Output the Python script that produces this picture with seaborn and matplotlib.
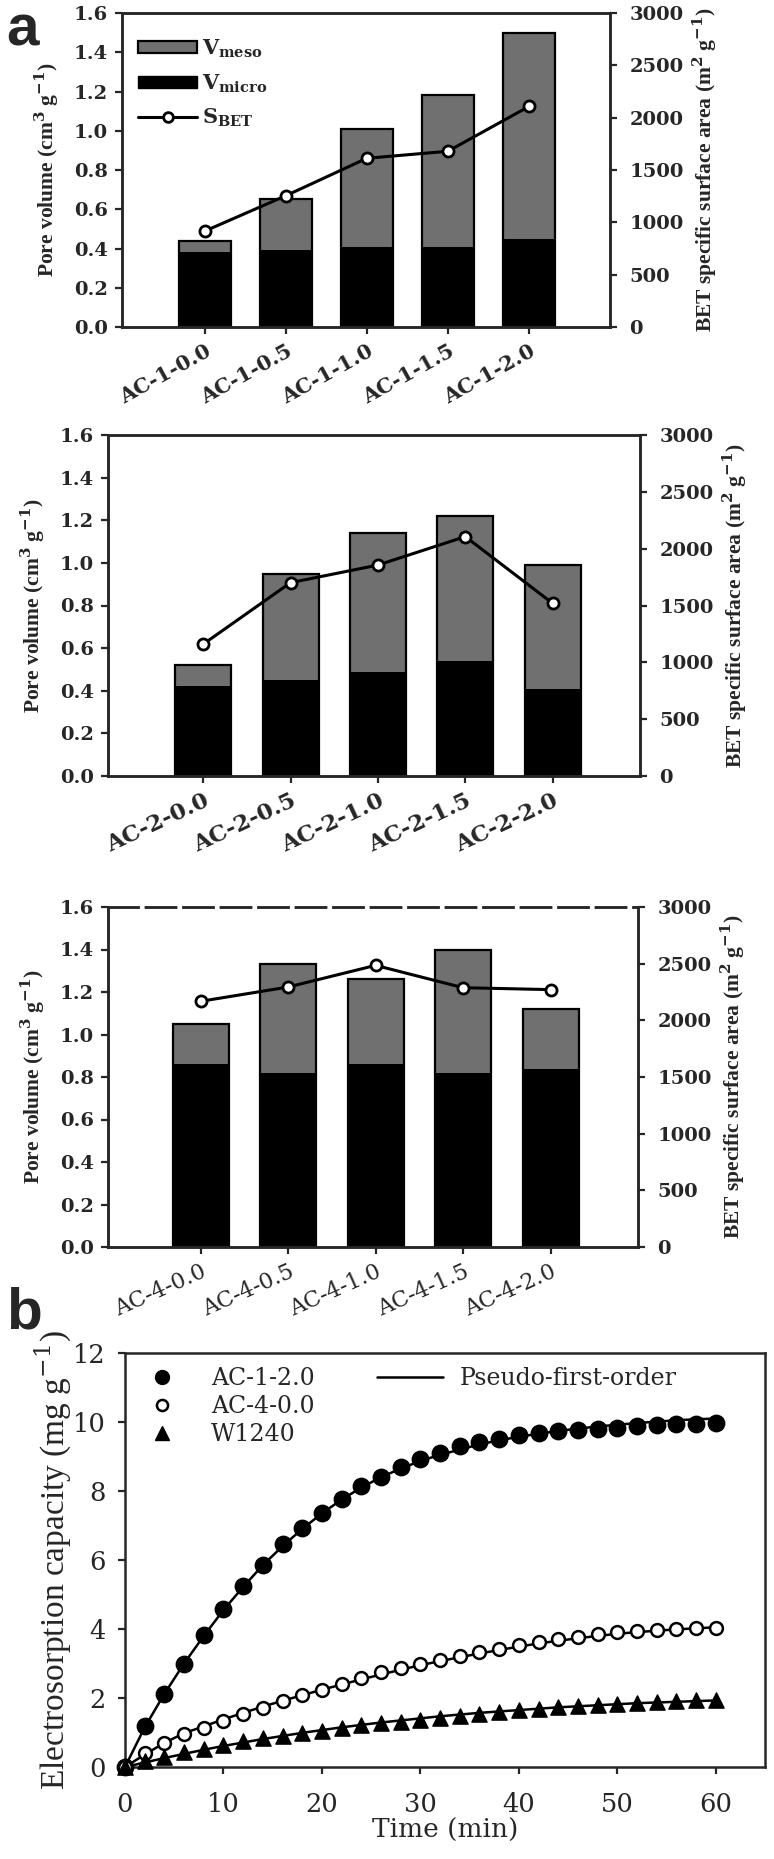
import numpy as np
import pandas as pd
import matplotlib
matplotlib.use("Agg")
import matplotlib.pyplot as plt
import seaborn as sns
from matplotlib.patches import Patch
from matplotlib.lines import Line2D

sns.set_theme(style="ticks")
plt.rcParams['font.family'] = ['DejaVu Serif']
plt.rcParams['mathtext.fontset'] = 'custom'
plt.rcParams['mathtext.rm'] = 'DejaVu Serif'
plt.rcParams['mathtext.it'] = 'DejaVu Serif:italic'
plt.rcParams['mathtext.bf'] = 'DejaVu Serif:bold'

# ---------------- data ----------------
samples_1 = ["AC-1-0.0", "AC-1-0.5", "AC-1-1.0", "AC-1-1.5", "AC-1-2.0"]
v_total_1 = [0.44, 0.65, 1.01, 1.18, 1.50]
v_micro_1 = [0.38, 0.39, 0.41, 0.41, 0.45]
s_bet_1 = [916, 1254, 1612, 1679, 2107]

samples_2 = ["AC-2-0.0", "AC-2-0.5", "AC-2-1.0", "AC-2-1.5", "AC-2-2.0"]
v_total_2 = [0.52, 0.95, 1.14, 1.22, 0.99]
v_micro_2 = [0.42, 0.45, 0.49, 0.54, 0.41]
s_bet_2 = [1160, 1701, 1856, 2106, 1519]

samples_4 = ["AC-4-0.0", "AC-4-0.5", "AC-4-1.0", "AC-4-1.5", "AC-4-2.0"]
v_total_4 = [1.05, 1.33, 1.26, 1.40, 1.12]
v_micro_4 = [0.86, 0.82, 0.86, 0.82, 0.84]
s_bet_4 = [2168, 2294, 2485, 2288, 2271]

time_min = [0, 2, 4, 6, 8, 10, 12, 14, 16, 18, 20, 22, 24, 26, 28, 30,
            32, 34, 36, 38, 40, 42, 44, 46, 48, 50, 52, 54, 56, 58, 60]
q_ac12 = [0.0, 1.18, 2.11, 3.0, 3.83, 4.57, 5.25, 5.86, 6.46, 6.94, 7.37,
          7.77, 8.15, 8.42, 8.71, 8.94, 9.09, 9.29, 9.41, 9.51, 9.62, 9.69,
          9.74, 9.77, 9.79, 9.83, 9.89, 9.91, 9.93, 9.94, 9.97]
q_ac40 = [0.0, 0.42, 0.69, 0.95, 1.12, 1.34, 1.54, 1.70, 1.91, 2.09, 2.23,
          2.40, 2.57, 2.74, 2.86, 3.00, 3.11, 3.22, 3.34, 3.43, 3.54, 3.62,
          3.71, 3.77, 3.85, 3.91, 3.94, 3.98, 4.00, 4.02, 4.02]
q_w1240 = [0.0, 0.17, 0.29, 0.43, 0.51, 0.63, 0.74, 0.83, 0.91, 0.99, 1.05,
           1.14, 1.22, 1.27, 1.31, 1.37, 1.43, 1.49, 1.54, 1.60, 1.66, 1.69,
           1.74, 1.77, 1.81, 1.83, 1.86, 1.89, 1.91, 1.93, 1.94]
fit_ac12 = [0.0, 1.15, 2.12, 3.0, 3.8, 4.55, 5.22, 5.85, 6.4, 6.9, 7.35,
            7.75, 8.1, 8.4, 8.65, 8.87, 9.05, 9.2, 9.35, 9.47, 9.57, 9.66,
            9.74, 9.81, 9.87, 9.92, 9.97, 10.01, 10.05, 10.08, 10.1]
fit_ac40 = [0.0, 0.36, 0.70, 0.98, 1.18, 1.38, 1.57, 1.75, 1.92, 2.08, 2.24,
            2.39, 2.54, 2.68, 2.82, 2.95, 3.07, 3.18, 3.29, 3.39, 3.49, 3.58,
            3.66, 3.73, 3.80, 3.86, 3.91, 3.95, 3.99, 4.02, 4.05]
fit_w1240 = [0.0, 0.13, 0.26, 0.38, 0.50, 0.61, 0.71, 0.81, 0.90, 0.99, 1.07,
             1.15, 1.22, 1.29, 1.35, 1.41, 1.47, 1.52, 1.57, 1.61, 1.65, 1.69,
             1.73, 1.76, 1.79, 1.82, 1.85, 1.87, 1.89, 1.91, 1.93]

GRAY = "#707070"
LS = "Liberation Serif"

W, H = 774, 1859
fig = plt.figure(figsize=(W / 100, H / 100), dpi=100)


def px_axes(left, top, right, bottom):
    return fig.add_axes([left / W, 1 - bottom / H, (right - left) / W, (bottom - top) / H])


def bar_panel(ax, samples, vtot, vmic, sbet, xlim, legend=False, xt_weight="bold",
              xt_size=15, xt_rot=29, dashed_top=False):
    df = pd.DataFrame({"sample": samples, "total": vtot, "micro": vmic})
    sns.barplot(data=df, x="sample", y="total", color=GRAY, width=0.64,
                edgecolor="black", linewidth=1.6, saturation=1, ax=ax)
    sns.barplot(data=df, x="sample", y="micro", color="black", width=0.64,
                edgecolor="black", linewidth=0, saturation=1, ax=ax)
    ax.set_xlim(*xlim)
    ax.set_ylim(0, 1.6)
    yt = np.arange(0, 1.61, 0.2)
    ax.set_yticks(yt)
    ax.set_yticklabels([f"{v:.1f}" for v in yt], fontsize=14, fontweight="bold")
    ax.set_xlabel("")
    ax.set_ylabel(r"Pore volume (cm$^{\mathbf{3}}$ g$^{\mathbf{-1}}$)",
                  fontsize=15.5, fontweight="bold", family=LS, labelpad=9)
    ax.set_xticks(range(len(samples)))
    ax.set_xticklabels(samples, rotation=xt_rot, ha="right", va="top",
                       rotation_mode="anchor", fontsize=xt_size, fontweight=xt_weight)
    for s in ax.spines.values():
        s.set_linewidth(1.8)
        s.set_visible(True)
    ax.tick_params(direction="out", length=5, width=1.6, pad=5)

    ax2 = ax.twinx()
    sns.lineplot(x=np.arange(len(sbet)), y=sbet, color="black", linewidth=2.2,
                 marker="o", markersize=8, markerfacecolor="white",
                 markeredgecolor="black", markeredgewidth=2, ax=ax2)
    ax2.set_ylim(0, 3000)
    ax2.set_yticks(np.arange(0, 3001, 500))
    ax2.set_yticklabels([str(v) for v in range(0, 3001, 500)], fontsize=14,
                        fontweight="bold")
    ax2.set_ylabel(r"BET specific surface area (m$^{\mathbf{2}}$ g$^{\mathbf{-1}}$)",
                   fontsize=15.5, fontweight="bold", family=LS, labelpad=5)
    ax2.tick_params(direction="out", length=5, width=1.6, pad=9)
    for s in ax2.spines.values():
        s.set_linewidth(1.8)
    if dashed_top:
        ax.spines["top"].set_linestyle((0, (12, 3)))
        ax2.spines["top"].set_linestyle((0, (12, 3)))

    if legend:
        handles = [Patch(facecolor=GRAY, edgecolor="black", linewidth=1.6),
                   Patch(facecolor="black", edgecolor="black"),
                   Line2D([0], [0], color="black", lw=2.2, marker="o",
                          markersize=7, markerfacecolor="white",
                          markeredgewidth=2)]
        labels = [r"V$_{\mathbf{meso}}$", r"V$_{\mathbf{micro}}$", r"S$_{\mathbf{BET}}$"]
        ax2.legend(handles, labels, loc="upper left", bbox_to_anchor=(0.033, 0.922),
                   frameon=False, handlelength=2.85, handleheight=0.55,
                   handletextpad=0.2, labelspacing=0.6, borderpad=0, borderaxespad=0,
                   prop={"family": "DejaVu Serif", "weight": "bold", "size": 15})
    return ax2


ax1 = px_axes(122, 13, 610, 327)
bar_panel(ax1, samples_1, v_total_1, v_micro_1, s_bet_1, (-1.02, 5.0), legend=True)

ax2 = px_axes(108, 435, 640, 776)
bar_panel(ax2, samples_2, v_total_2, v_micro_2, s_bet_2, (-1.09, 5.0),
          xt_size=16.5, xt_rot=25)

ax3 = px_axes(108, 907, 638, 1247)
bar_panel(ax3, samples_4, v_total_4, v_micro_4, s_bet_4, (-1.06, 5.0),
          xt_weight="normal", xt_size=16, xt_rot=24, dashed_top=True)

# ---------------- panel b ----------------
axb = px_axes(125, 1353, 765, 1767)
sns.lineplot(x=time_min, y=fit_ac12, color="black", linewidth=1.8, ax=axb)
sns.lineplot(x=time_min, y=fit_ac40, color="black", linewidth=1.8, ax=axb)
sns.lineplot(x=time_min, y=fit_w1240, color="black", linewidth=1.8, ax=axb)
sns.scatterplot(x=time_min, y=q_ac12, marker="o", s=140, color="black",
                edgecolor="black", linewidth=1, ax=axb, zorder=3, clip_on=False)
sns.scatterplot(x=time_min, y=q_ac40, marker="o", s=85, facecolor="white",
                edgecolor="black", linewidth=1.8, ax=axb, zorder=3, clip_on=False)
sns.scatterplot(x=time_min, y=q_w1240, marker="^", s=120, color="black",
                edgecolor="black", linewidth=1, ax=axb, zorder=3, clip_on=False)
axb.set_xlim(0, 65)
axb.set_ylim(0, 12)
axb.set_xticks(range(0, 61, 10))
axb.set_yticks(range(0, 13, 2))
axb.tick_params(axis="y", direction="out", length=5, width=1.6, labelsize=18.5, pad=9)
axb.tick_params(axis="x", direction="out", length=5, width=1.6, labelsize=18.5, pad=13)
for s in axb.spines.values():
    s.set_linewidth(1.8)
    s.set_visible(True)
axb.set_xlabel("Time (min)", fontsize=19, labelpad=1)
axb.set_ylabel(r"Electrosorption capacity (mg g$^{-1}$)", fontsize=24, family=LS,
               labelpad=0)

mk_handles = [Line2D([0], [0], ls="none", marker="o", color="black", markersize=10),
              Line2D([0], [0], ls="none", marker="o", markerfacecolor="white",
                     markeredgecolor="black", markeredgewidth=1.8, markersize=8),
              Line2D([0], [0], ls="none", marker="^", color="black", markersize=10)]
leg1 = axb.legend(mk_handles, ["AC-1-2.0", "AC-4-0.0", "W1240"], loc="upper left",
                  bbox_to_anchor=(0.039, 0.965), frameon=False, handlelength=1.0,
                  handletextpad=1.6, labelspacing=0.2, fontsize=17,
                  borderpad=0, borderaxespad=0)
axb.add_artist(leg1)
axb.legend([Line2D([0], [0], color="black", lw=1.8)], ["Pseudo-first-order"],
           loc="upper left", bbox_to_anchor=(0.394, 0.965), frameon=False,
           handlelength=2.8, handletextpad=0.7, fontsize=17, borderpad=0,
           borderaxespad=0)

fig.text(0.008, 0.998, "a", fontsize=42, family="Liberation Sans", weight="bold",
         va="top", ha="left")
fig.text(0.008, 0.308, "b", fontsize=42, family="Liberation Sans", weight="bold",
         va="top", ha="left")

fig.savefig("out.png", dpi=100)
